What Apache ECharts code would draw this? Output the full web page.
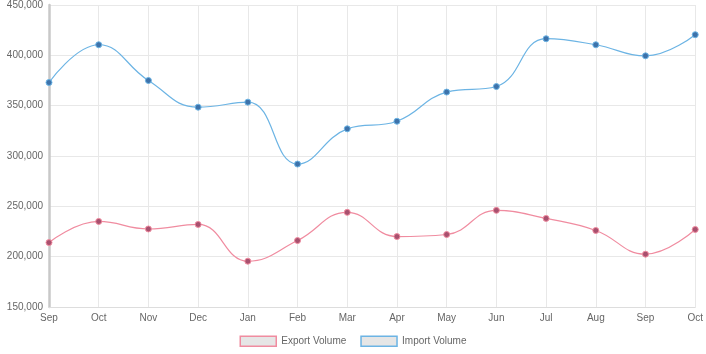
<!DOCTYPE html>
<html>
<head>
<meta charset="utf-8">
<script src="https://cdn.jsdelivr.net/npm/echarts@6/dist/echarts.min.js"></script>
<style>
  html, body { margin: 0; padding: 0; background: #fff; }
  #chart { width: 706px; height: 354px; }
</style>
</head>
<body>
<div id="chart"></div>
<script>
var months = ['Sep', 'Oct', 'Nov', 'Dec', 'Jan', 'Feb', 'Mar', 'Apr', 'May', 'Jun', 'Jul', 'Aug', 'Sep', 'Oct'];
var exportVolume = [214000, 235000, 227500, 232000, 195500, 216000, 244000, 220000, 222000, 246000, 238000, 226000, 202500, 227000];
var importVolume = [373000, 410500, 375000, 348500, 353500, 292000, 327000, 334500, 363500, 369000, 416500, 410500, 399500, 420500];

var chart = echarts.init(document.getElementById('chart'));

chart.setOption({
  animation: false,
  textStyle: { fontFamily: 'Liberation Sans, Arial, sans-serif' },
  grid: { left: 49, right: 10, top: 4, bottom: 47 },
  legend: {
    bottom: 2,
    itemWidth: 36,
    itemHeight: 10,
    itemGap: 14,
    icon: 'rect',
    textStyle: { color: '#666', fontSize: 10 },
    data: [
      { name: 'Export Volume', itemStyle: { color: '#e6e6e6', borderColor: '#f08ca0', borderWidth: 1.5 } },
      { name: 'Import Volume', itemStyle: { color: '#e6e6e6', borderColor: '#6cb4e4', borderWidth: 1.5 } }
    ]
  },
  xAxis: {
    type: 'category',
    data: months,
    boundaryGap: false,
    axisLine: { lineStyle: { color: '#ddd' } },
    axisTick: { show: false },
    axisLabel: { color: '#666', fontSize: 10, margin: 6 },
    splitLine: { show: true, lineStyle: { color: '#e8e8e8' } }
  },
  yAxis: {
    type: 'value',
    min: 150000,
    max: 450000,
    interval: 50000,
    axisLine: { show: true, lineStyle: { color: '#c8c8c8', width: 2.5 } },
    axisTick: { show: false },
    axisLabel: {
      color: '#666',
      fontSize: 10,
      margin: 6,
      formatter: function (v) { return v.toLocaleString('en-US'); }
    },
    splitLine: { lineStyle: { color: '#e8e8e8' } }
  },
  series: [
    {
      name: 'Export Volume',
      type: 'line',
      data: exportVolume,
      smooth: 0.45,
      symbol: 'circle',
      symbolSize: 6,
      lineStyle: { color: '#f08ca0', width: 1.2 },
      itemStyle: { color: '#a8506e', borderColor: '#f08ca0', borderWidth: 1 }
    },
    {
      name: 'Import Volume',
      type: 'line',
      data: importVolume,
      smooth: 0.45,
      symbol: 'circle',
      symbolSize: 6,
      lineStyle: { color: '#6cb4e4', width: 1.2 },
      itemStyle: { color: '#3d72aa', borderColor: '#6cb4e4', borderWidth: 1 }
    }
  ]
});
</script>
</body>
</html>
